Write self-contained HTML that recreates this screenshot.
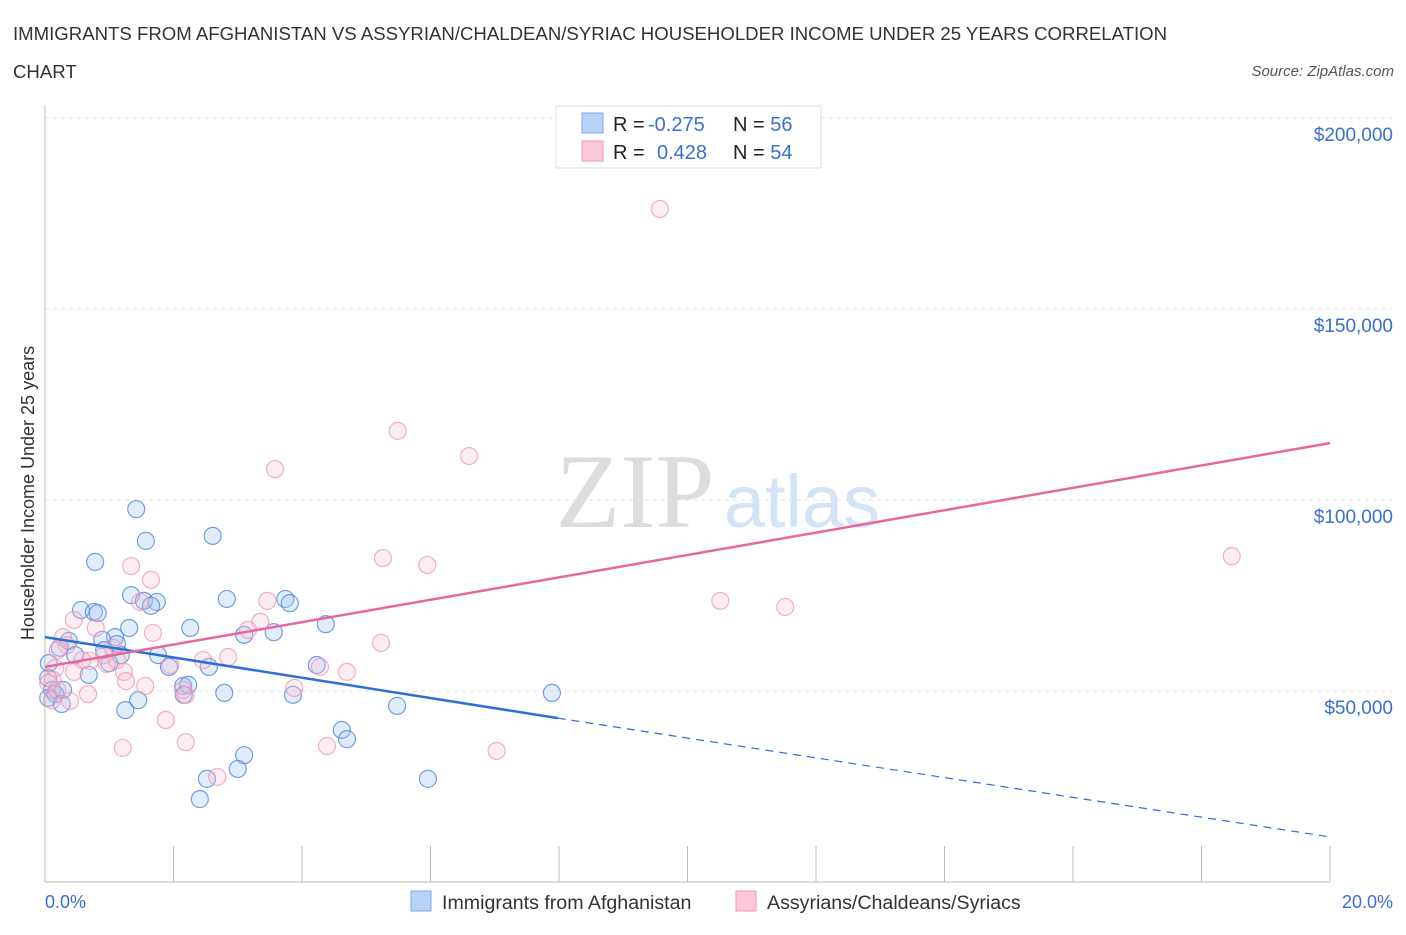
<!DOCTYPE html>
<html><head><meta charset="utf-8"><style>
body{margin:0;background:#fff;width:1406px;height:930px;overflow:hidden;font-family:"Liberation Sans",sans-serif}
</style></head><body>
<svg width="1406" height="930" xmlns="http://www.w3.org/2000/svg">
<text x="13" y="40" font-size="18.6" fill="#333">IMMIGRANTS FROM AFGHANISTAN VS ASSYRIAN/CHALDEAN/SYRIAC HOUSEHOLDER INCOME UNDER 25 YEARS CORRELATION</text>
<text x="13" y="78" font-size="18.6" fill="#333">CHART</text>
<text x="1394" y="76" font-size="15" fill="#555" font-style="italic" text-anchor="end">Source: ZipAtlas.com</text>
<g>
<text x="635" y="527" font-size="106" fill="#ddd" font-family="Liberation Serif" text-anchor="middle">ZIP</text>
<text x="802" y="527" font-size="74" fill="#d4e3f6" text-anchor="middle">atlas</text>
</g>
<g id="grid"></g>
<g id="axes"></g>
<g id="marks"></g>
<text x="34" y="493" font-size="18" fill="#333" text-anchor="middle" transform="rotate(-90 34 493)">Householder Income Under 25 years</text>
<text x="45" y="908" font-size="18" fill="#3a6fd0">0.0%</text>
<text x="1393" y="908" font-size="18" fill="#3a6fd0" text-anchor="end">20.0%</text>
<g>
<rect x="556" y="106" width="265" height="62" fill="#fff" stroke="#ddd"/>
<rect x="582" y="113" width="21" height="20" fill="#b9d3f7" stroke="#7fa9e8"/>
<rect x="582" y="141" width="21" height="20" fill="#fcc8d8" stroke="#ef9ab5"/>
<text x="613" y="131" font-size="20" fill="#222">R = <tspan x="648" fill="#3a6fd0">-0.275</tspan><tspan x="733">N = </tspan><tspan fill="#3a6fd0">56</tspan></text>
<text x="613" y="159" font-size="20" fill="#222">R = <tspan x="657" fill="#3a6fd0">0.428</tspan><tspan x="733">N = </tspan><tspan fill="#3a6fd0">54</tspan></text>
</g>
<g>
<rect x="411" y="891" width="20" height="20" fill="#b9d3f7" stroke="#7fa9e8"/>
<text x="442" y="909" font-size="19.6" fill="#333">Immigrants from Afghanistan</text>
</g>
<g>
<rect x="736" y="891" width="20" height="20" fill="#fcc8d8" stroke="#ef9ab5"/>
<text x="767" y="909" font-size="19.6" fill="#333">Assyrians/Chaldeans/Syriacs</text>
</g>
</svg>
<script>
const yTicks=[50000,100000,150000,200000];
const yTickLabels=["$50,000","$100,000","$150,000","$200,000"];
const xTicks=[0,2,4,6,8,10,12,14,16,18,20];
const blueX=[1.42,1.57,0.78,2.61,1.34,1.54,1.74,1.65,0.56,0.76,0.82,2.83,3.74,3.81,4.37,2.26,1.31,1.09,0.89,1.12,3.56,3.10,0.37,0.23,0.92,1.18,0.47,1.76,1.93,1.00,0.68,0.06,0.05,0.11,0.16,0.28,0.05,0.26,1.45,1.25,2.15,2.23,2.55,2.79,3.86,2.16,4.23,4.62,4.70,5.48,7.89,3.10,3.00,2.52,2.41,5.96];
const blueY=[97.6,89.3,83.8,90.6,75.1,73.6,73.3,72.3,71.2,70.7,70.4,74.1,74.1,73.0,67.5,66.5,66.5,64.1,63.4,62.3,65.4,64.7,63.1,61.3,60.7,59.4,59.4,59.4,56.3,57.3,54.2,57.3,53.4,50.3,49.2,50.3,48.2,46.6,47.6,45.0,51.3,51.6,56.3,49.5,49.0,49.0,56.8,39.8,37.4,46.1,49.5,33.2,29.6,27.0,21.7,27.0];
const pinkX=[9.57,5.49,6.60,3.58,5.26,5.95,18.47,1.34,1.65,10.51,11.52,3.46,1.48,3.35,3.16,1.68,0.45,0.79,5.23,0.28,0.34,0.20,1.06,0.92,0.70,0.58,1.12,0.16,0.45,1.23,1.95,2.46,2.85,4.28,4.70,3.88,1.56,1.26,0.12,0.05,0.39,0.11,2.19,2.15,1.88,2.19,1.21,2.68,4.39,7.03,0.19,0.96,0.67];
const pinkY=[176.2,118.1,111.5,108.1,84.8,83.0,85.3,82.7,79.1,73.6,72.0,73.6,73.3,68.1,66.0,65.2,68.6,66.5,62.6,64.1,62.0,60.7,61.3,59.4,57.9,58.1,58.1,56.0,55.0,55.0,56.8,58.1,58.9,56.3,55.0,50.8,51.3,52.6,52.9,52.1,47.4,47.6,49.0,50.3,42.4,36.6,35.1,27.5,35.6,34.3,50.3,57.1,49.2];
const blueTrendX=[0,7.98,20];
const blueTrendY=[64.1,42.9,11.8];
const pinkTrendX=[0,20];
const pinkTrendY=[56.3,114.9];
const NS="http://www.w3.org/2000/svg";
const X=v=>45+v/20*1285;
const Y=v=>882-v/50000*191;
const Yk=v=>Y(v*1000);
function mk(t,a,p){const e=document.createElementNS(NS,t);for(const k in a)e.setAttribute(k,a[k]);p.appendChild(e);return e;}
const grid=document.getElementById('grid'),axes=document.getElementById('axes'),marks=document.getElementById('marks');
yTicks.forEach((t,i)=>{
 const l=mk('line',{x1:45,x2:1395,y1:Y(t),y2:Y(t),stroke:'#e2e2e2','stroke-dasharray':'4 4'},grid);
 
 
 const tx=mk('text',{x:1393,y:Y(t)+23,'font-size':19,fill:'#3a6fd0','text-anchor':'end'},grid);
 tx.textContent=yTickLabels[i];
 
 
});
const ax=mk('line',{x1:45,x2:45,y1:105,y2:882,stroke:'#bbb'},axes);


const bx=mk('line',{x1:45,x2:1330,y1:882,y2:882,stroke:'#bbb'},axes);


xTicks.forEach(t=>{
 const l=mk('line',{x1:X(t),x2:X(t),y1:846,y2:882,stroke:'#bbb'},axes);
 
 
});
blueX.forEach((v,i)=>{
 const c=mk('circle',{cx:X(v),cy:Yk(blueY[i]),r:8.5,fill:'rgba(160,196,242,0.3)',stroke:'rgba(70,130,220,0.75)','stroke-width':1.2},marks);
 
 
});
pinkX.forEach((v,i)=>{
 const c=mk('circle',{cx:X(v),cy:Yk(pinkY[i]),r:8.5,fill:'rgba(248,185,206,0.28)',stroke:'rgba(238,150,180,0.75)','stroke-width':1.2},marks);
 
 
});
const b1=mk('line',{x1:X(blueTrendX[0]),y1:Yk(blueTrendY[0]),x2:X(blueTrendX[1]),y2:Yk(blueTrendY[1]),stroke:'#2e6fd6','stroke-width':2.5},marks);


const b2=mk('line',{x1:X(blueTrendX[1]),y1:Yk(blueTrendY[1]),x2:X(blueTrendX[2]),y2:Yk(blueTrendY[2]),stroke:'#2e6fd6','stroke-width':1.2,'stroke-dasharray':'8 6'},marks);


const p1=mk('line',{x1:X(pinkTrendX[0]),y1:Yk(pinkTrendY[0]),x2:X(pinkTrendX[1]),y2:Yk(pinkTrendY[1]),stroke:'#e8679a','stroke-width':2.5},marks);


</script>
</body></html>
